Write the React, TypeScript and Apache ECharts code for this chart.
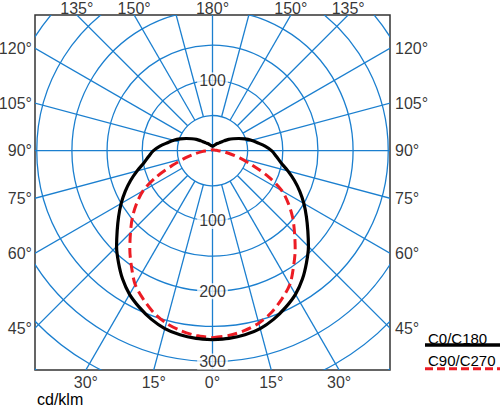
import React, { useEffect, useRef } from "react";
import * as echarts from "echarts";

// Gamma angles (degrees, 0 = straight down, 180 = straight up)
const GAMMA = [0, 5, 10, 15, 20, 25, 30, 35, 40, 45, 50, 55, 60, 65, 70, 75, 80, 85, 90, 95, 100, 105, 110, 115, 120, 125, 130, 135, 140, 145, 150, 155, 160, 165, 170, 175, 180];
// Luminous intensity, cd/klm
const C0_C180 = [269, 268, 266, 262, 255, 246, 236, 223, 208, 193, 177, 163, 150, 137, 124, 111, 99, 91, 84, 75, 65, 57, 49, 41, 34, 28, 22, 17.5, 14.5, 12.5, 11, 9.5, 8.5, 7.5, 7, 6.5, 6];
const C90_C270 = [266, 264, 260, 254, 245, 233, 220, 201, 183, 165, 149, 132, 114, 88, 60, 40, 25, 15, 8, 5.5, 4, 3.2, 2.7, 2.3, 2, 1.8, 1.7, 1.6, 1.5, 1.5, 1.5, 1.4, 1.4, 1.4, 1.4, 1.4, 1.4];

// Polar grid
const RINGS = [50, 100, 150, 200, 250, 300, 350, 400];
const SPOKES = [0, 15, 30, 45, 60, 75, 90, 105, 120, 135, 150, 165, 180, 195, 210, 225, 240, 255, 270, 285, 300, 315, 330, 345];
const RADIAL_TICKS = [100, 200, 300];
const RADIAL_TICKS_UP = [100];

// Angle labels
const SIDE_LABELS = [45, 60, 75, 90, 105, 120];
const TOP_LABELS = [135, 150];
const BOTTOM_LABELS = [15, 30];
const AXIS_TOP = 180;
const AXIS_BOTTOM = 0;

const SERIES_NAMES = ["C0/C180", "C90/C270"];
const UNIT = "cd/klm";

const X_MIN = -252.5, X_MAX = 252.5, Y_MIN = -312, Y_MAX = 193;

const BLUE = "#1b7fcf";
const RED = "#ec1c24";
const FONT = "Liberation Sans, Arial, Helvetica, sans-serif";

const toXY = (g: number, v: number, side: number) => {
  const a = (g * Math.PI) / 180;
  return [side * v * Math.sin(a), -v * Math.cos(a)];
};

const curve = (vals: number[]) => {
  const pts: number[][] = [];
  for (let i = 0; i < GAMMA.length; i++) pts.push(toXY(GAMMA[i], vals[i], 1));
  for (let i = GAMMA.length - 2; i >= 0; i--) pts.push(toXY(GAMMA[i], vals[i], -1));
  return pts;
};

const edgePoint = (g: number, side: number) => {
  const a = (g * Math.PI) / 180;
  const dx = side * Math.sin(a);
  const dy = -Math.cos(a);
  const cands: { t: number; e: string }[] = [];
  if (dx > 1e-9) cands.push({ t: X_MAX / dx, e: "right" });
  if (dx < -1e-9) cands.push({ t: X_MIN / dx, e: "left" });
  if (dy > 1e-9) cands.push({ t: Y_MAX / dy, e: "top" });
  if (dy < -1e-9) cands.push({ t: Y_MIN / dy, e: "bottom" });
  cands.sort((p, q) => p.t - q.t);
  const c = cands[0];
  return { value: [dx * c.t, dy * c.t], pos: c.e };
};

const angleLabelData = () => {
  const items: any[] = [];
  const add = (g: number, side: number) => {
    const p = edgePoint(g, side);
    const dist = p.pos === "left" ? 3 : p.pos === "right" ? 5 : p.pos === "top" ? -1 : 5;
    items.push({ value: p.value, name: g + "°", label: { position: p.pos, distance: dist } });
  };
  [...SIDE_LABELS, ...TOP_LABELS, ...BOTTOM_LABELS].forEach((g) => {
    add(g, -1);
    add(g, 1);
  });
  add(AXIS_TOP, 1);
  add(AXIS_BOTTOM, 1);
  return items;
};

export default function App() {
  const ref = useRef<HTMLDivElement>(null);
  useEffect(() => {
    if (!ref.current) return;
    const chart = echarts.init(ref.current, null, { renderer: "svg" });
    const option: any = {
      animation: false,
      backgroundColor: "#fff",
      grid: {
        left: 35,
        top: 15,
        width: 355,
        height: 355,
        show: true,
        borderColor: "#333",
        borderWidth: 1.5,
        backgroundColor: "#fff",
      },
      xAxis: { type: "value", min: X_MIN, max: X_MAX, show: false },
      yAxis: { type: "value", min: Y_MIN, max: Y_MAX, show: false },
      series: [
        {
          type: "custom",
          clip: true,
          silent: true,
          z: 1,
          data: RINGS.map((r) => [0, 0, r]),
          renderItem: (params: any, api: any) => {
            const c = api.coord([0, 0]);
            const rp = api.size([api.value(2), 0])[0];
            return {
              type: "circle",
              shape: { cx: c[0], cy: c[1], r: rp },
              style: { fill: "none", stroke: BLUE, lineWidth: 1.3 },
            };
          },
        },
        {
          type: "custom",
          clip: true,
          silent: true,
          z: 1,
          data: SPOKES.map((g) => [0, 0, g]),
          renderItem: (params: any, api: any) => {
            const g = api.value(2);
            const inner = g % 90 === 0 ? 0 : RINGS[0];
            const p0 = api.coord(toXY(g, inner, 1));
            const p1 = api.coord(toXY(g, 700, 1));
            return {
              type: "line",
              shape: { x1: p0[0], y1: p0[1], x2: p1[0], y2: p1[1] },
              style: { stroke: BLUE, lineWidth: 1.3 },
            };
          },
        },
        {
          type: "line",
          name: SERIES_NAMES[1],
          data: curve(C90_C270),
          symbol: "none",
          smooth: 0.3,
          z: 3,
          lineStyle: { color: RED, width: 3, type: [10, 5] },
        },
        {
          type: "line",
          name: SERIES_NAMES[0],
          data: curve(C0_C180),
          symbol: "none",
          smooth: 0.3,
          z: 4,
          lineStyle: { color: "#000", width: 3.2 },
        },
        {
          type: "scatter",
          clip: false,
          silent: true,
          z: 5,
          symbolSize: 0.1,
          itemStyle: { color: "transparent" },
          data: [
            ...RADIAL_TICKS.map((v) => ({ value: [0, -v], name: String(v) })),
            ...RADIAL_TICKS_UP.map((v) => ({ value: [0, v], name: String(v) })),
          ],
          label: {
            show: true,
            position: "inside",
            formatter: "{b}",
            color: "#000",
            fontSize: 16,
            fontFamily: FONT,
            backgroundColor: "#fff",
            padding: [0, 2],
          },
        },
        {
          type: "scatter",
          clip: false,
          silent: true,
          z: 5,
          symbolSize: 0.1,
          itemStyle: { color: "transparent" },
          data: angleLabelData(),
          label: {
            show: true,
            formatter: "{b}",
            color: "#000",
            fontSize: 16,
            lineHeight: 14,
            fontFamily: FONT,
          },
        },
      ],
      graphic: [
        {
          type: "text",
          x: 37,
          y: 399,
          style: { text: UNIT, fill: "#000", font: `16px ${FONT}`, verticalAlign: "middle", lineHeight: 12 },
        },
        {
          type: "text",
          x: 428,
          y: 338,
          style: { text: SERIES_NAMES[0], fill: "#000", font: `15px ${FONT}`, verticalAlign: "middle" },
        },
        {
          type: "line",
          shape: { x1: 425, y1: 345, x2: 500, y2: 345 },
          style: { stroke: "#000", lineWidth: 3.3 },
        },
        {
          type: "text",
          x: 428,
          y: 360,
          style: { text: SERIES_NAMES[1], fill: "#000", font: `15px ${FONT}`, verticalAlign: "middle" },
        },
        {
          type: "line",
          shape: { x1: 425, y1: 368.7, x2: 500, y2: 368.7 },
          style: { stroke: RED, lineWidth: 3, lineDash: [8, 4] },
        },
      ],
    };
    chart.setOption(option);
    return () => chart.dispose();
  }, []);
  return (
    <div
      ref={ref}
      style={{ position: "absolute", left: 0, top: 0, width: 500, height: 406 }}
    />
  );
}
